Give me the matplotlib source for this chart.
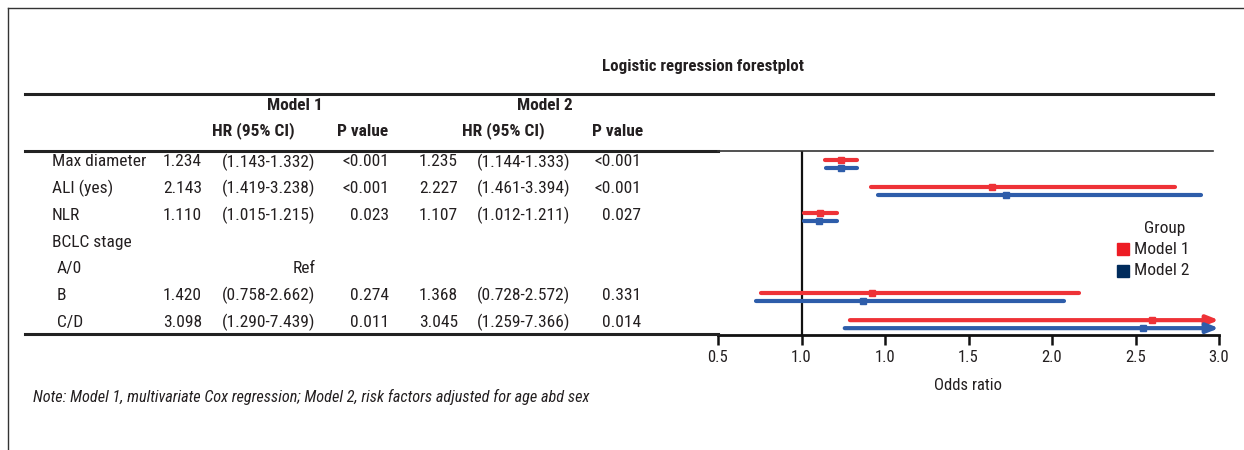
import matplotlib
matplotlib.use("Agg")
import matplotlib.pyplot as plt
from matplotlib.lines import Line2D
from matplotlib.patches import Rectangle

plt.rcParams['font.family'] = ['Roboto Condensed', 'DejaVu Sans']
plt.rcParams['font.stretch'] = 'condensed'

# ---- data ----
variables = ["Max diameter", "ALI (yes)", "NLR", "BCLC stage", "A/0", "B", "C/D"]
indented = [False, False, False, False, True, True, True]

m1_hr = [1.234, 2.143, 1.110, None, None, 1.420, 3.098]
m1_lo = [1.143, 1.419, 1.015, None, None, 0.758, 1.290]
m1_hi = [1.332, 3.238, 1.215, None, None, 2.662, 7.439]
m1_p = ["<0.001", "<0.001", "0.023", "", "", "0.274", "0.011"]

m2_hr = [1.235, 2.227, 1.107, None, None, 1.368, 3.045]
m2_lo = [1.144, 1.461, 1.012, None, None, 0.728, 1.259]
m2_hi = [1.333, 3.394, 1.211, None, None, 2.572, 7.366]
m2_p = ["<0.001", "<0.001", "0.027", "", "", "0.331", "0.014"]

ref_row = 4
tick_pos = [0.5, 1.0, 1.5, 2.0, 2.5, 3.0, 3.5]
tick_labels = ["0.5", "1.0", "1.0", "1.5", "2.0", "2.5", "3.0"]
groups = ["Model 1", "Model 2"]
line_colors = ["#EE3237", "#2E5DAA"]
legend_colors = ["#ED1C24", "#002B5C"]

W, H = 1244, 450
fig = plt.figure(figsize=(W / 100, H / 100), dpi=100)
BODY = 12.5


def fx(x):
    return x / W


def fy(y):
    return 1 - y / H


def hline(x0, x1, y, lw=2.2, color="#222222"):
    fig.add_artist(Line2D([fx(x0), fx(x1)], [fy(y), fy(y)], lw=lw, color=color,
                          transform=fig.transFigure))


def vline(x, y0, y1, lw=1.0, color="#333333"):
    fig.add_artist(Line2D([fx(x), fx(x)], [fy(y0), fy(y1)], lw=lw, color=color,
                          transform=fig.transFigure))


def text(x, y, s, ha="left", weight="normal", size=BODY, style="normal"):
    fig.text(fx(x), fy(y), s, ha=ha, va="center", fontsize=size,
             fontweight=weight, fontstyle=style, color="#231f20")


# outer frame
hline(8, W, 8, lw=1.0, color="#333333")
vline(8, 8, H, lw=1.0)

# title
text(703, 66, "Logistic regression forestplot", ha="center", weight="bold", size=12.2)

# table rules
hline(25, 1213, 94, lw=2.2)
hline(25, 718, 151, lw=2.2)
hline(25, 718, 334, lw=2.2)

# header
text(295, 105, "Model 1", ha="center", weight="bold")
text(253, 131, "HR (95% CI)", ha="center", weight="bold")
text(363, 131, "P value", ha="center", weight="bold")
text(545, 105, "Model 2", ha="center", weight="bold")
text(503, 131, "HR (95% CI)", ha="center", weight="bold")
text(618, 131, "P value", ha="center", weight="bold")

row_y0, row_dy = 162, 26.67
for i, name in enumerate(variables):
    y = row_y0 + row_dy * i
    text(57 if indented[i] else 52, y, name)
    if m1_hr[i] is not None:
        text(202, y, f"{m1_hr[i]:.3f}", ha="right")
        text(222, y, f"({m1_lo[i]:.3f}-{m1_hi[i]:.3f})")
        text(389, y, m1_p[i], ha="right")
        text(458, y, f"{m2_hr[i]:.3f}", ha="right")
        text(477, y, f"({m2_lo[i]:.3f}-{m2_hi[i]:.3f})")
        text(641, y, m2_p[i], ha="right")
text(316, row_y0 + row_dy * ref_row, "Ref", ha="right")

# ---- forest plot ----
px0, px1, py0, py1 = 718, 1219, 151, 335
ax = fig.add_axes([fx(px0), fy(py1), fx(px1 - px0), (py1 - py0) / H])
xmin, xmax = 0.5, 3.5
ax.set_xlim(xmin, xmax)
ax.set_ylim((py1 - row_y0) / row_dy, (py0 - row_y0) / row_dy)
ax.patch.set_alpha(0)
for side in ["left", "right", "top"]:
    ax.spines[side].set_visible(False)
ax.spines["bottom"].set_linewidth(2.0)
ax.spines["bottom"].set_color("#111111")
ax.set_yticks([])
ax.set_xticks(tick_pos)
ax.set_xticklabels(tick_labels, fontsize=12, color="#231f20")
ax.tick_params(axis="x", direction="out", length=7, width=1.8, color="#111111", pad=4)
ax.set_xlabel("Odds ratio", fontsize=12, color="#231f20", labelpad=9)
ax.axvline(1.0, color="#111111", lw=1.6)
hline(px0, 1213, py0, lw=1.2, color="#333333")

offsets = [-0.07, 0.23]
series = [(m1_hr, m1_lo, m1_hi), (m2_hr, m2_lo, m2_hi)]
for g, (hr, lo, hi) in enumerate(series):
    c = line_colors[g]
    for i in range(len(variables)):
        if hr[i] is None:
            continue
        y = i + offsets[g]
        if hi[i] > xmax:
            ax.annotate("", xy=(xmax, y), xytext=(lo[i], y),
                        arrowprops=dict(arrowstyle="-|>,head_length=0.7,head_width=0.28",
                                        color=c, lw=3, shrinkA=0, shrinkB=0),
                        annotation_clip=False)
        else:
            ax.plot([lo[i], hi[i]], [y, y], color=c, lw=3, solid_capstyle="round")
        ax.plot([hr[i]], [y], marker="s", ms=4.3, color=c)

# legend
text(1165, 228, "Group", ha="center")
for g, name in enumerate(groups):
    y = 249 + 21.5 * g
    fig.add_artist(Rectangle((fx(1117), fy(y + 6)), fx(12), 12 / H,
                             color=legend_colors[g], transform=fig.transFigure))
    text(1134, y, name)

# footnote
text(33, 397, "Note: Model 1, multivariate Cox regression; Model 2, risk factors adjusted for age abd sex",
     style="italic", size=11.7)

fig.savefig("out.png", dpi=100)
